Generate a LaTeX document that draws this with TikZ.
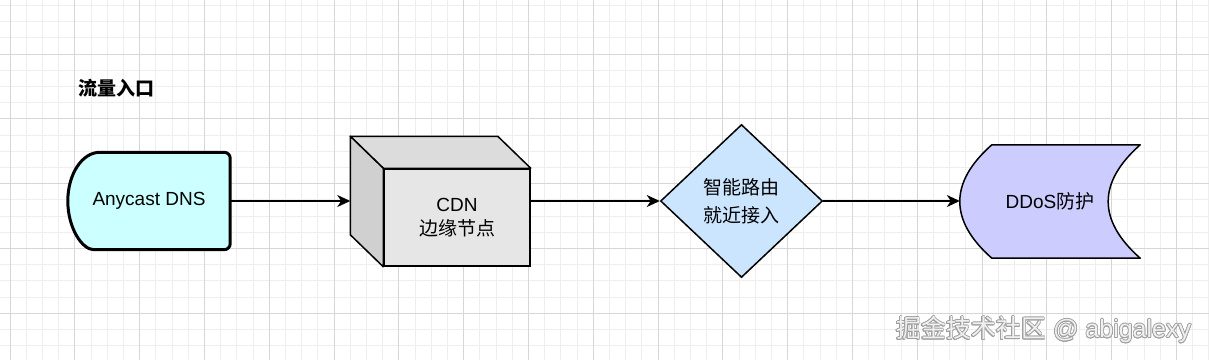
\documentclass[tikz,border=0pt]{standalone}
\usepackage{fontspec}
\setmainfont{Liberation Sans}
\newfontfamily\cjk{Noto Sans CJK SC}
\usepackage{contour}
\contourlength{0.7pt}
\usetikzlibrary{calc, positioning, arrows.meta, shapes.geometric}
\definecolor{gridminor}{HTML}{EEEEEE}
\definecolor{gridmajor}{HTML}{D6D6D6}
\definecolor{dnsfill}{HTML}{CCFFFF}
\definecolor{cdnfront}{HTML}{E6E6E6}
\definecolor{cdntop}{HTML}{DCDCDC}
\definecolor{cdnside}{HTML}{D0D0D0}
\definecolor{routefill}{HTML}{CCE5FF}
\definecolor{ddosfill}{HTML}{CCCCFF}
\pgfdeclarelayer{grid}
\pgfdeclarelayer{shapes}
\pgfsetlayers{grid,shapes,main}

\begin{document}
\begin{tikzpicture}[
  x=1pt, y=-1pt,
  font=\fontsize{19}{24}\selectfont,
  minorline/.style={draw=gridminor, line width=1pt},
  majorline/.style={draw=gridmajor, line width=1pt},
  textbox/.style={inner sep=0pt, align=center},
  dnsshape/.style={draw, fill=dnsfill, line width=3pt, line join=round},
  cdnbox/.style={draw, fill=cdnfront, line width=1.5pt, align=center,
                 minimum width=146pt, minimum height=97pt},
  cdnface/.style={draw, line width=1.5pt, line join=round},
  routebox/.style={diamond, draw, fill=routefill, line width=1.5pt,
                   align=center, inner sep=0pt, minimum width=162pt,
                   minimum height=153pt, font=\fontsize{19}{28}\selectfont\cjk},
  ddosshape/.style={draw, fill=ddosfill, line width=1.5pt, line join=round},
  arr/.style={-{Stealth[length=13pt, width=12pt, inset=4pt]}, line width=1.6pt}
]
\useasboundingbox (0,0) rectangle (1209,360);

\begin{pgfonlayer}{grid}
\fill[white] (0,0) rectangle (1209,360);
\foreach \i in {0,...,74}
  \draw[minorline] ({10+16.2*\i},0) -- ++(0,360);
\foreach \j in {0,...,21}
  \draw[minorline] (0,{5.4+16.2*\j}) -- ++(1209,0);
\foreach \i in {0,...,18}
  \draw[majorline] ({10+64.8*\i},0) -- ++(0,360);
\foreach \j in {0,...,4}
  \draw[majorline] (0,{54+64.8*\j}) -- ++(1209,0);
\end{pgfonlayer}

\node[textbox, anchor=west] (title) at (78,88) {{\cjk\bfseries 流量入口}};

\node[textbox, minimum width=162pt, minimum height=97pt] (dns) at (149,201) {Anycast DNS};
\node[cdnbox]   (cdn)   at (457,217.5) {CDN\\{\cjk 边缘节点}};
\node[routebox] (route) at (741.5,201) {智能路由\\就近接入};
\node[textbox, minimum width=180pt, minimum height=113pt] (ddos) at (1050,201.5) {DDoS{\cjk 防护}};

\coordinate (cdnin) at ($(cdn.west)+(-33,-16.5)$);

\begin{pgfonlayer}{shapes}
\draw[dnsshape] ($(dns.north west)+(32,0)$) [rounded corners=6pt] -- (dns.north east)
  -- (dns.south east) -- ($(dns.south west)+(32,0)$) [sharp corners]
  .. controls ($(dns.south west)+(14.3,0)$) and ($(dns.west)+(0,26.8)$) .. (dns.west)
  .. controls ($(dns.west)+(0,-26.8)$) and ($(dns.north west)+(14.3,0)$) .. ($(dns.north west)+(32,0)$)
  -- cycle;
\draw[cdnface, fill=cdntop] (cdn.north west) -- ($(cdn.north west)+(-33,-32)$)
  -- ($(cdn.north east)+(-33,-32)$) -- (cdn.north east) -- cycle;
\draw[cdnface, fill=cdnside] (cdn.north west) -- ($(cdn.north west)+(-33,-32)$)
  -- ($(cdn.south west)+(-33,-32)$) -- (cdn.south west) -- cycle;
\draw[ddosshape] ($(ddos.north west)+(32,0)$) -- (ddos.north east)
  .. controls ($(ddos.north east)+(-42.7,37.7)$) and ($(ddos.south east)+(-42.7,-37.7)$) .. (ddos.south east)
  -- ($(ddos.south west)+(32,0)$)
  .. controls ($(ddos.south west)+(-10.7,-37.7)$) and ($(ddos.north west)+(-10.7,37.7)$) .. ($(ddos.north west)+(32,0)$)
  -- cycle;
\end{pgfonlayer}

\draw[arr] (dns.east) -- (cdnin);
\draw[arr] (cdn.east |- route.west) -- (route.west);
\draw[arr] (route.east) -- (ddos.west |- route.east);

\node[textbox, anchor=west, font=\fontsize{25}{30}\selectfont] (mark) at (896,330)
  {\contour{gray!75}{\textcolor{white!94!black}{{\cjk 掘金技术社区} @ abigalexy}}};
\end{tikzpicture}
\end{document}
